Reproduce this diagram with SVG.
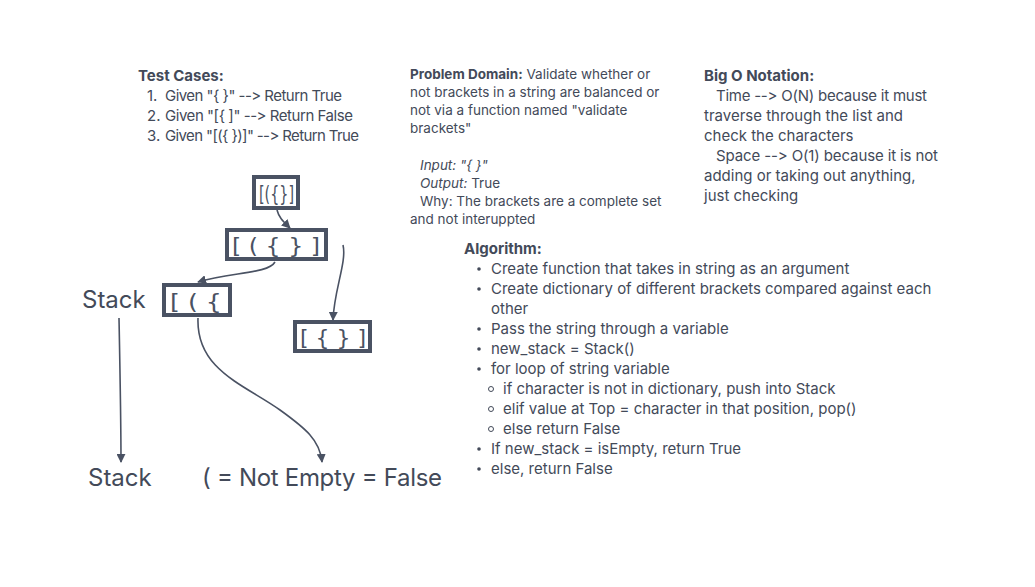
<svg xmlns="http://www.w3.org/2000/svg" width="1035" height="587" viewBox="0 0 1035 587">
<style>
.t{font-family:Inter,"Noto Sans",sans-serif;fill:#434a59;font-size:15px;font-feature-settings:"calt" 0,"liga" 0;font-variant-ligatures:none}
.b{font-weight:bold}
.pd{font-size:13.5px}
.it{font-style:italic}
.box{fill:#ffffff;stroke:#4a5263;stroke-width:4}
.bt{font-family:"DejaVu Sans Condensed","DejaVu Sans",sans-serif;fill:#4a5263;font-size:22px}
.big{font-family:Inter,"Noto Sans",sans-serif;fill:#434a59;font-size:24px}
.c{fill:none;stroke:#4a5263;stroke-width:1.6}
</style>
<defs>
<marker id="ah" viewBox="0 0 10 10" refX="9" refY="5" markerWidth="9" markerHeight="9" markerUnits="userSpaceOnUse" orient="auto">
<path d="M0,0 L10,5 L0,10 z" fill="#4a5263"/>
</marker>
</defs>
<rect width="1035" height="587" fill="#ffffff"/>

<g id="test-cases">
<text class="t b" x="138" y="81" font-size="14">Test Cases:</text>
<text class="t" x="147" y="101">1.<tspan x="165" textLength="177">Given "{ }" --&gt; Return True</tspan></text>
<text class="t" x="147" y="121">2.<tspan x="165" textLength="188">Given "[{ ]" --&gt; Return False</tspan></text>
<text class="t" x="147" y="141">3.<tspan x="165" textLength="194">Given "[({ })]" --&gt; Return True</tspan></text>
</g>

<g id="problem-domain">
<text class="t pd" x="410" y="79"><tspan class="b">Problem Domain:</tspan> Validate whether or</text>
<text class="t pd" x="410" y="97">not brackets in a string are balanced or</text>
<text class="t pd" x="410" y="115">not via a function named "validate</text>
<text class="t pd" x="410" y="133">brackets"</text>
<text class="t pd it" x="420" y="170">Input: "{ }"</text>
<text class="t pd" x="420" y="188"><tspan class="it">Output:</tspan>  True</text>
<text class="t pd" x="420" y="206">Why: The brackets are a complete set</text>
<text class="t pd" x="410" y="224">and not interuppted</text>
</g>

<g id="big-o">
<text class="t b" x="704" y="81">Big O Notation:</text>
<text class="t" x="716" y="101" textLength="211">Time --&gt; O(N) because it must</text>
<text class="t" x="704" y="121">traverse through the list and</text>
<text class="t" x="704" y="141">check the characters</text>
<text class="t" x="716" y="161" textLength="222">Space --&gt; O(1) because it is not</text>
<text class="t" x="704" y="181">adding or taking out anything,</text>
<text class="t" x="704" y="201">just checking</text>
</g>

<g id="algorithm">
<text class="t b" x="464" y="254" font-size="14">Algorithm:</text>
<g fill="#434a59">
<circle cx="479" cy="269" r="1.8"/>
<circle cx="479" cy="289" r="1.8"/>
<circle cx="479" cy="329" r="1.8"/>
<circle cx="479" cy="349" r="1.8"/>
<circle cx="479" cy="369" r="1.8"/>
<circle cx="479" cy="449" r="1.8"/>
<circle cx="479" cy="469" r="1.8"/>
</g>
<g fill="none" stroke="#434a59" stroke-width="1">
<circle cx="491" cy="389" r="2.5"/>
<circle cx="491" cy="409" r="2.5"/>
<circle cx="491" cy="429" r="2.5"/>
</g>
<text class="t" x="491" y="274">Create function that takes in string as an argument</text>
<text class="t" x="491" y="294">Create dictionary of different brackets compared against each</text>
<text class="t" x="491" y="314">other</text>
<text class="t" x="491" y="334">Pass the string through a variable</text>
<text class="t" x="491" y="354">new_stack = Stack()</text>
<text class="t" x="491" y="374">for loop of string variable</text>
<text class="t" x="503" y="394">if character is not in dictionary, push into Stack</text>
<text class="t" x="503" y="414">elif value at Top = character in that position, pop()</text>
<text class="t" x="503" y="434">else return False</text>
<text class="t" x="491" y="454">If new_stack = isEmpty, return True</text>
<text class="t" x="491" y="474">else, return False</text>
</g>

<g id="box-input">
<rect class="box" x="254" y="177" width="44" height="31"/>
<text class="bt" x="259" y="201" textLength="35" lengthAdjust="spacingAndGlyphs">[({}]</text>
</g>
<g id="box-full">
<rect class="box" x="227" y="230" width="99" height="29"/>
<text class="bt" x="232" y="253" textLength="88" lengthAdjust="spacingAndGlyphs">[ ( { } ]</text>
</g>
<g id="box-stack">
<rect class="box" x="164" y="285" width="66" height="30"/>
<text class="bt" x="170" y="309" textLength="52" lengthAdjust="spacingAndGlyphs">[ ( {</text>
</g>
<g id="box-inner">
<rect class="box" x="295" y="322" width="75" height="29"/>
<text class="bt" x="300" y="345" textLength="66" lengthAdjust="spacingAndGlyphs">[ { } ]</text>
</g>

<g id="labels">
<text class="big" x="82" y="308">Stack</text>
<text class="big" x="88" y="486">Stack</text>
<text class="big" x="202" y="486" textLength="240">( = Not Empty = False</text>
</g>

<g id="connectors">
<path class="c" d="M277,210 C279,218 284,222 290,228" marker-end="url(#ah)"/>
<path class="c" d="M275,262 C268,274 230,272 198,282" marker-end="url(#ah)"/>
<path class="c" d="M343,245 C347,262 334,290 333,320" marker-end="url(#ah)"/>
<path class="c" d="M119,318 C120,370 121,420 121,462" marker-end="url(#ah)"/>
<path class="c" d="M198,318 C196,370 245,385 280,410 C305,428 320,440 322,462" marker-end="url(#ah)"/>
</g>
</svg>
